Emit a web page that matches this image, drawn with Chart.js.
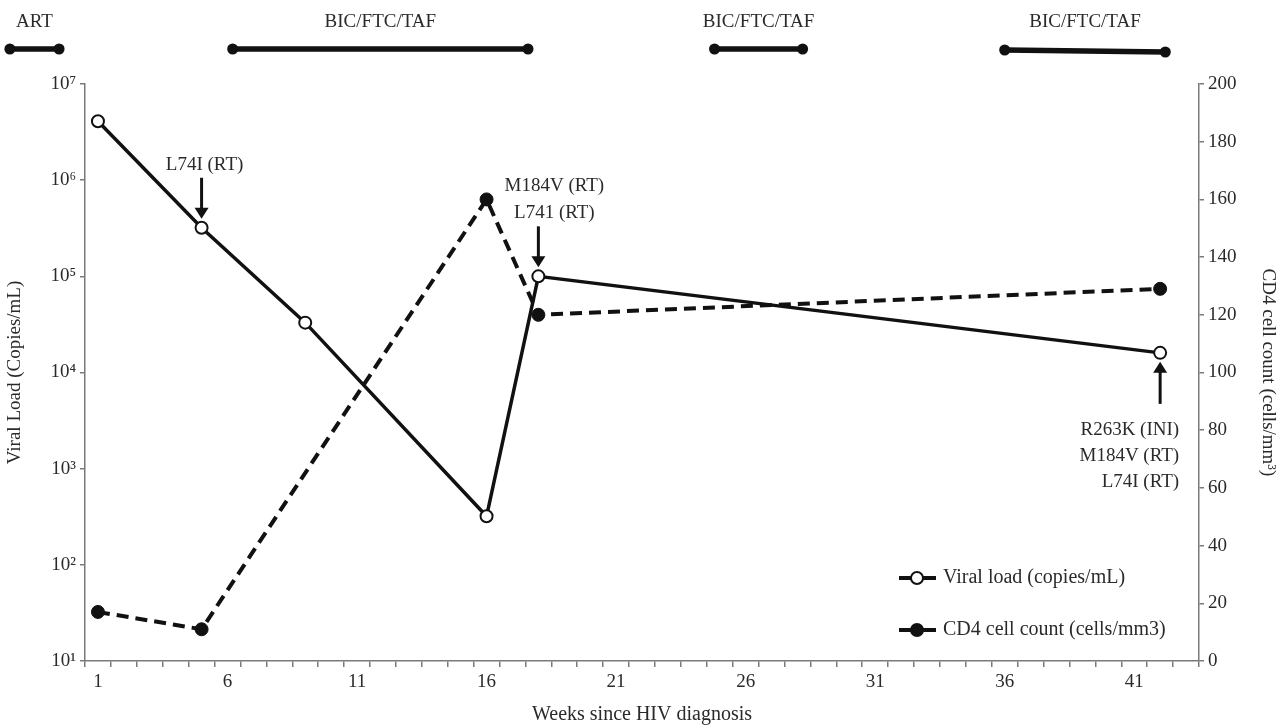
<!DOCTYPE html>
<html>
<head>
<meta charset="utf-8">
<script src="https://cdn.jsdelivr.net/npm/chart.js@4.4.0/dist/chart.umd.min.js"></script>
<style>
html, body { margin: 0; padding: 0; background: #fff; }
#wrap { width: 1279px; height: 728px; }
</style>
</head>
<body>
<div id="wrap"><canvas id="hivChart"></canvas></div>
<script>
// data
var xTickLabels = [1, 6, 11, 16, 21, 26, 31, 36, 41];
var vlWeeks = [1, 5, 9, 16, 18, 42];
var vlValues = [4100000, 320000, 33000, 320, 100000, 16000];
var cd4Weeks = [1, 5, 16, 18, 42];
var cd4Values = [17, 11, 160, 120, 129];
var leftTicks = [10, 100, 1000, 10000, 100000, 1000000, 10000000];

// treatment periods along the top (weeks)
var therapyNames = ['ART', 'BIC/FTC/TAF', 'BIC/FTC/TAF', 'BIC/FTC/TAF'];
var therapyStart = [-2.4, 6.2, 24.8, 36];
var therapyEnd = [-0.5, 17.6, 28.2, 42.2];

// resistance mutations found at viral load samples
var mutationWeeks = [5, 18, 42];
var mutationLabels = [
    ['L74I (RT)'],
    ['M184V (RT)', 'L741 (RT)'],
    ['R263K (INI)', 'M184V (RT)', 'L74I (RT)']
];
var mutationSide = ['above', 'above', 'below'];

var FONT = '"Liberation Serif", "DejaVu Serif", serif';
var INK = '#111';
var TEXT = '#2a2a2a';
var AXIS = '#7a7a7a';

var weekTicks = [];
for (var w = 1; w <= 43; w++) weekTicks.push(w);

var supers = ['\u2070', '\u00b9', '\u00b2', '\u00b3', '\u2074', '\u2075', '\u2076', '\u2077'];

Chart.defaults.font.family = FONT;
Chart.defaults.font.size = 19;
Chart.defaults.color = TEXT;

function toPoints(xs, ys) {
    return xs.map(function (x, i) { return { x: x, y: ys[i] }; });
}

function arrow(ctx, x, yFrom, yTo) {
    var dir = yTo > yFrom ? 1 : -1;
    ctx.beginPath();
    ctx.moveTo(x, yFrom);
    ctx.lineTo(x, yTo - dir * 9);
    ctx.lineWidth = 3;
    ctx.stroke();
    ctx.beginPath();
    ctx.moveTo(x, yTo);
    ctx.lineTo(x - 7, yTo - dir * 11);
    ctx.lineTo(x + 7, yTo - dir * 11);
    ctx.closePath();
    ctx.fill();
}

var decor = {
    id: 'decor',
    afterDraw: function (chart) {
        var ctx = chart.ctx;
        var xs = chart.scales.x;
        var ys = chart.scales.y;
        var area = chart.chartArea;
        ctx.save();
        ctx.fillStyle = INK;
        ctx.strokeStyle = INK;
        ctx.font = '19px ' + FONT;
        ctx.textBaseline = 'middle';

        // therapy bars
        therapyNames.forEach(function (name, i) {
            var x1 = xs.getPixelForValue(therapyStart[i]);
            var x2 = xs.getPixelForValue(therapyEnd[i]);
            var y = 49 + (i === 3 ? 1 : 0);
            ctx.lineWidth = 5.5;
            ctx.beginPath();
            ctx.moveTo(x1, y);
            ctx.lineTo(x2, y + (i === 3 ? 2 : 0));
            ctx.stroke();
            ctx.beginPath();
            ctx.arc(x1, y, 5.5, 0, Math.PI * 2);
            ctx.fill();
            ctx.beginPath();
            ctx.arc(x2, y + (i === 3 ? 2 : 0), 5.5, 0, Math.PI * 2);
            ctx.fill();
            ctx.fillStyle = TEXT;
            ctx.textAlign = 'center';
            ctx.fillText(name, (x1 + x2) / 2, 22);
            ctx.fillStyle = INK;
        });

        // mutation arrows
        mutationWeeks.forEach(function (wk, i) {
            var idx = vlWeeks.indexOf(wk);
            var px = xs.getPixelForValue(wk);
            var py = ys.getPixelForValue(vlValues[idx]);
            var lines = mutationLabels[i];
            ctx.fillStyle = INK;
            if (mutationSide[i] === 'above') {
                arrow(ctx, px, py - 50, py - 9);
                var tx = lines.length > 1 ? px + 16 : px + 3;
                ctx.fillStyle = TEXT;
                ctx.textAlign = 'center';
                lines.forEach(function (t, j) {
                    ctx.fillText(t, tx, py - 63 - (lines.length - 1 - j) * 27);
                });
            } else {
                arrow(ctx, px, py + 51, py + 9);
                ctx.fillStyle = TEXT;
                ctx.textAlign = 'right';
                lines.forEach(function (t, j) {
                    ctx.fillText(t, px + 19, py + 77 + j * 26);
                });
            }
        });

        // legend inside the plot, lower right
        var lx = area.right - 300;
        ctx.font = '20px ' + FONT;
        chart.data.datasets.forEach(function (ds, i) {
            var ly = area.bottom - 83 + i * 52;
            ctx.strokeStyle = INK;
            ctx.lineWidth = 4;
            ctx.setLineDash([]);
            ctx.beginPath();
            ctx.moveTo(lx, ly);
            ctx.lineTo(lx + 37, ly);
            ctx.stroke();
            ctx.beginPath();
            ctx.arc(lx + 18, ly, 6, 0, Math.PI * 2);
            ctx.fillStyle = ds.pointBackgroundColor;
            ctx.fill();
            ctx.lineWidth = 2;
            ctx.stroke();
            ctx.fillStyle = TEXT;
            ctx.textAlign = 'left';
            ctx.fillText(ds.label, lx + 44, ly);
        });
        ctx.restore();
    }
};

var ctx = document.getElementById('hivChart').getContext('2d');
var hivChart = new Chart(ctx, {
    type: 'line',
    data: {
        datasets: [{
            label: 'Viral load (copies/mL)',
            data: toPoints(vlWeeks, vlValues),
            yAxisID: 'y',
            borderColor: INK,
            borderWidth: 3.5,
            pointRadius: 6,
            pointBorderWidth: 2,
            pointBackgroundColor: '#fff',
            pointBorderColor: INK
        }, {
            label: 'CD4 cell count (cells/mm3)',
            data: toPoints(cd4Weeks, cd4Values),
            yAxisID: 'y1',
            borderColor: INK,
            borderWidth: 4,
            borderDash: [12, 7],
            pointRadius: 6.5,
            pointBorderWidth: 1,
            pointBackgroundColor: INK,
            pointBorderColor: INK
        }]
    },
    options: {
        responsive: true,
        maintainAspectRatio: false,
        animation: false,
        layout: { padding: { top: 84, left: 0, right: 0, bottom: 0 } },
        plugins: {
            legend: { display: false },
            tooltip: { enabled: false }
        },
        scales: {
            x: {
                type: 'linear',
                min: 0.5,
                max: 43.5,
                afterBuildTicks: function (s) {
                    s.ticks = weekTicks.map(function (v) { return { value: v }; });
                },
                afterFit: function (s) { s.height = 67; },
                ticks: {
                    autoSkip: false,
                    maxRotation: 0,
                    padding: 4,
                    callback: function (v) {
                        return xTickLabels.indexOf(v) >= 0 ? String(v) : '';
                    }
                },
                grid: {
                    drawOnChartArea: false,
                    offset: true,
                    tickLength: 6,
                    color: AXIS,
                    lineWidth: 1.5
                },
                border: { color: AXIS, width: 1.5 },
                title: {
                    display: true,
                    text: 'Weeks since HIV diagnosis',
                    font: { size: 20 },
                    padding: { top: 0, bottom: 1 }
                }
            },
            y: {
                type: 'logarithmic',
                position: 'left',
                min: 10,
                max: 10000000,
                afterBuildTicks: function (s) {
                    s.ticks = leftTicks.map(function (v) { return { value: v }; });
                },
                afterFit: function (s) { s.width = 85; },
                ticks: {
                    padding: 4,
                    callback: function (v) {
                        return '10' + supers[Math.round(Math.log10(v))];
                    }
                },
                grid: {
                    drawOnChartArea: false,
                    tickLength: 5,
                    color: AXIS,
                    lineWidth: 1.5
                },
                border: { color: AXIS, width: 1.5 },
                title: {
                    display: true,
                    text: 'Viral Load (Copies/mL)',
                    font: { size: 19 },
                    padding: { top: 4, bottom: 0 }
                }
            },
            y1: {
                type: 'linear',
                position: 'right',
                min: 0,
                max: 200,
                afterFit: function (s) { s.width = 80; },
                ticks: { stepSize: 20, padding: 4 },
                grid: {
                    drawOnChartArea: false,
                    tickLength: 5,
                    color: AXIS,
                    lineWidth: 1.5
                },
                border: { color: AXIS, width: 1.5 },
                title: {
                    display: true,
                    text: 'CD4 cell count (cells/mm\u00b3)',
                    font: { size: 19 },
                    padding: { top: 0, bottom: 4 }
                }
            }
        }
    },
    plugins: [decor]
});
</script>
</body>
</html>
